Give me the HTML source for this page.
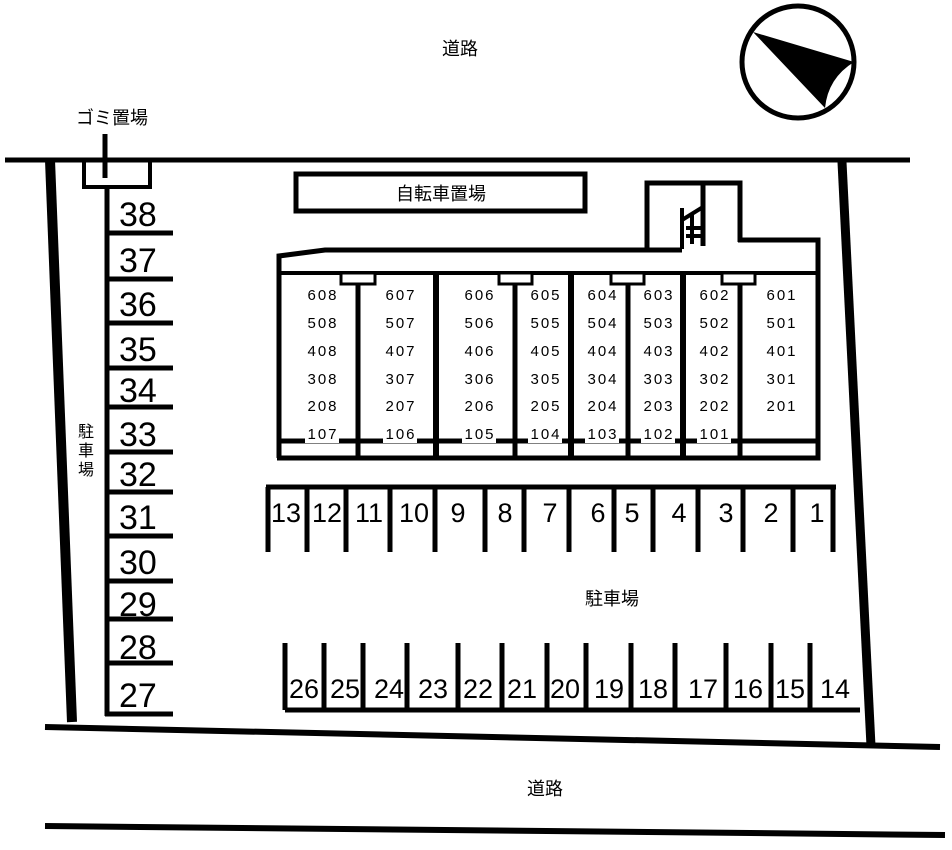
<!DOCTYPE html>
<html><head><meta charset="utf-8"><style>
html,body{margin:0;padding:0;background:#fff;}
svg{display:block;}
text{font-family:"Liberation Sans","Noto Sans CJK JP",sans-serif;fill:#000;}
.j{font-family:"Noto Sans CJK JP",sans-serif;}
.r{font-size:15px;letter-spacing:2px;text-anchor:middle;}
.p{font-size:27px;text-anchor:middle;}
.l{font-size:34px;}
</style></head><body>
<svg width="952" height="850" viewBox="0 0 952 850" xmlns="http://www.w3.org/2000/svg">
<rect width="952" height="850" fill="#fff"/>
<circle cx="798" cy="62" r="56" fill="none" stroke="#000" stroke-width="5"/>
<path d="M753 32 L854 62 Q828 78 825 108 Z" fill="#000"/>
<text class="j" x="460" y="55" font-size="18" text-anchor="middle">道路</text>
<text class="j" x="545" y="795" font-size="18" text-anchor="middle">道路</text>
<text class="j" x="112" y="124" font-size="18" text-anchor="middle">ゴミ置場</text>
<text class="j" x="612" y="605" font-size="18" text-anchor="middle">駐車場</text>
<text class="j" x="86" y="437" font-size="16" text-anchor="middle">駐</text>
<text class="j" x="86" y="456" font-size="16" text-anchor="middle">車</text>
<text class="j" x="86" y="475" font-size="16" text-anchor="middle">場</text>
<line x1="5" y1="160" x2="910" y2="160" stroke="#000" stroke-width="5"/>
<line x1="50" y1="160" x2="72" y2="722" stroke="#000" stroke-width="10"/>
<line x1="842" y1="162" x2="871" y2="746" stroke="#000" stroke-width="9"/>
<line x1="45" y1="727" x2="940" y2="747" stroke="#000" stroke-width="6"/>
<line x1="45" y1="826" x2="945" y2="835" stroke="#000" stroke-width="6"/>
<path d="M84 162 V187 H150 V162" fill="none" stroke="#000" stroke-width="4"/>
<line x1="105" y1="134" x2="105" y2="178" stroke="#000" stroke-width="5"/>
<line x1="107" y1="186" x2="107" y2="716" stroke="#000" stroke-width="5"/>
<g stroke="#000" stroke-width="5">
<line x1="105" y1="233" x2="173" y2="233"/><line x1="105" y1="279" x2="173" y2="279"/>
<line x1="105" y1="323" x2="173" y2="323"/><line x1="105" y1="368" x2="173" y2="368"/>
<line x1="105" y1="407" x2="173" y2="407"/><line x1="105" y1="452" x2="173" y2="452"/>
<line x1="105" y1="492" x2="173" y2="492"/><line x1="105" y1="536" x2="173" y2="536"/>
<line x1="105" y1="581" x2="173" y2="581"/><line x1="105" y1="619" x2="173" y2="619"/>
<line x1="105" y1="663" x2="173" y2="663"/><line x1="105" y1="714" x2="173" y2="714"/>
</g>
<g>
<text class="l" x="119" y="226">38</text><text class="l" x="119" y="272">37</text>
<text class="l" x="119" y="316">36</text><text class="l" x="119" y="361">35</text>
<text class="l" x="119" y="402">34</text><text class="l" x="119" y="446">33</text>
<text class="l" x="119" y="486">32</text><text class="l" x="119" y="529">31</text>
<text class="l" x="119" y="574">30</text><text class="l" x="119" y="616">29</text>
<text class="l" x="119" y="659">28</text><text class="l" x="119" y="707">27</text>
</g>
<rect x="296" y="174" width="289" height="37" fill="none" stroke="#000" stroke-width="5"/>
<text class="j" x="441" y="200" font-size="18" text-anchor="middle">自転車置場</text>
<path d="M279 458 V256 L325 250 H682" fill="none" stroke="#000" stroke-width="5"/>
<path d="M738 240 H818 V458 H277" fill="none" stroke="#000" stroke-width="5"/>
<path d="M647 249 V183 H740 V242" fill="none" stroke="#000" stroke-width="5"/>
<line x1="703" y1="183" x2="703" y2="246" stroke="#000" stroke-width="5"/>
<path d="M682 249 V208 M682 220 L703 207 M686 228 H703 M686 236 H703 M692 214 V244" fill="none" stroke="#000" stroke-width="4"/>
<line x1="279" y1="273" x2="818" y2="273" stroke="#000" stroke-width="4"/>
<g stroke="#000" stroke-width="5">
<line x1="358" y1="273" x2="358" y2="458"/><line x1="436" y1="273" x2="436" y2="458" stroke-width="6"/>
<line x1="515" y1="273" x2="515" y2="458"/><line x1="571" y1="273" x2="571" y2="458" stroke-width="6"/>
<line x1="628" y1="273" x2="628" y2="458"/><line x1="683" y1="273" x2="683" y2="458" stroke-width="6"/>
<line x1="740" y1="273" x2="740" y2="458"/>
</g>
<g fill="#fff" stroke="#000" stroke-width="3">
<rect x="341" y="273" width="34" height="11"/><rect x="499" y="273" width="33" height="11"/>
<rect x="611" y="273" width="33" height="11"/><rect x="722" y="273" width="33" height="11"/>
</g>
<g stroke="#000" stroke-width="5">
<line x1="358" y1="284" x2="358" y2="290"/><line x1="515" y1="284" x2="515" y2="290"/>
<line x1="628" y1="284" x2="628" y2="290"/><line x1="740" y1="284" x2="740" y2="290"/>
</g>
<line x1="279" y1="441" x2="818" y2="441" stroke="#000" stroke-width="5"/>
<g fill="#fff">
<rect x="305" y="428" width="34" height="15"/><rect x="383" y="428" width="34" height="15"/>
<rect x="462" y="428" width="34" height="15"/><rect x="528" y="428" width="34" height="15"/>
<rect x="585" y="428" width="34" height="15"/><rect x="641" y="428" width="34" height="15"/>
<rect x="697" y="428" width="34" height="15"/>
</g>
<g>
<text class="r" x="323" y="300">608</text><text class="r" x="401" y="300">607</text><text class="r" x="480" y="300">606</text><text class="r" x="546" y="300">605</text><text class="r" x="603" y="300">604</text><text class="r" x="659" y="300">603</text><text class="r" x="715" y="300">602</text><text class="r" x="782" y="300">601</text>
<text class="r" x="323" y="328">508</text><text class="r" x="401" y="328">507</text><text class="r" x="480" y="328">506</text><text class="r" x="546" y="328">505</text><text class="r" x="603" y="328">504</text><text class="r" x="659" y="328">503</text><text class="r" x="715" y="328">502</text><text class="r" x="782" y="328">501</text>
<text class="r" x="323" y="356">408</text><text class="r" x="401" y="356">407</text><text class="r" x="480" y="356">406</text><text class="r" x="546" y="356">405</text><text class="r" x="603" y="356">404</text><text class="r" x="659" y="356">403</text><text class="r" x="715" y="356">402</text><text class="r" x="782" y="356">401</text>
<text class="r" x="323" y="384">308</text><text class="r" x="401" y="384">307</text><text class="r" x="480" y="384">306</text><text class="r" x="546" y="384">305</text><text class="r" x="603" y="384">304</text><text class="r" x="659" y="384">303</text><text class="r" x="715" y="384">302</text><text class="r" x="782" y="384">301</text>
<text class="r" x="323" y="411">208</text><text class="r" x="401" y="411">207</text><text class="r" x="480" y="411">206</text><text class="r" x="546" y="411">205</text><text class="r" x="603" y="411">204</text><text class="r" x="659" y="411">203</text><text class="r" x="715" y="411">202</text><text class="r" x="782" y="411">201</text>
<text class="r" x="323" y="439">107</text><text class="r" x="401" y="439">106</text><text class="r" x="480" y="439">105</text><text class="r" x="546" y="439">104</text><text class="r" x="603" y="439">103</text><text class="r" x="659" y="439">102</text><text class="r" x="715" y="439">101</text>
</g>
<line x1="266" y1="487" x2="836" y2="487" stroke="#000" stroke-width="5"/>
<g stroke="#000" stroke-width="5">
<line x1="268" y1="487" x2="268" y2="552"/><line x1="307" y1="487" x2="307" y2="552"/>
<line x1="346" y1="487" x2="346" y2="552"/><line x1="390" y1="487" x2="390" y2="552"/>
<line x1="435" y1="487" x2="435" y2="552"/><line x1="485" y1="487" x2="485" y2="552"/>
<line x1="524" y1="487" x2="524" y2="552"/><line x1="569" y1="487" x2="569" y2="552"/>
<line x1="614" y1="487" x2="614" y2="552"/><line x1="653" y1="487" x2="653" y2="552"/>
<line x1="698" y1="487" x2="698" y2="552"/><line x1="743" y1="487" x2="743" y2="552"/>
<line x1="793" y1="487" x2="793" y2="552"/><line x1="833" y1="487" x2="833" y2="552"/>
</g>
<g>
<text class="p" x="286" y="522">13</text><text class="p" x="327" y="522">12</text><text class="p" x="369" y="522">11</text><text class="p" x="414" y="522">10</text><text class="p" x="458" y="522">9</text><text class="p" x="505" y="522">8</text><text class="p" x="550" y="522">7</text><text class="p" x="598" y="522">6</text><text class="p" x="632" y="522">5</text><text class="p" x="679" y="522">4</text><text class="p" x="726" y="522">3</text><text class="p" x="771" y="522">2</text><text class="p" x="817" y="522">1</text>
</g>
<line x1="285" y1="710" x2="860" y2="710" stroke="#000" stroke-width="5"/>
<g stroke="#000" stroke-width="5">
<line x1="285" y1="643" x2="285" y2="710"/><line x1="324" y1="643" x2="324" y2="710"/>
<line x1="363" y1="643" x2="363" y2="710"/><line x1="407" y1="643" x2="407" y2="710"/>
<line x1="458" y1="643" x2="458" y2="710"/><line x1="502" y1="643" x2="502" y2="710"/>
<line x1="547" y1="643" x2="547" y2="710"/><line x1="586" y1="643" x2="586" y2="710"/>
<line x1="631" y1="643" x2="631" y2="710"/><line x1="675" y1="643" x2="675" y2="710"/>
<line x1="726" y1="643" x2="726" y2="710"/><line x1="771" y1="643" x2="771" y2="710"/>
<line x1="810" y1="643" x2="810" y2="710"/>
</g>
<g>
<text class="p" x="304" y="698">26</text><text class="p" x="345" y="698">25</text><text class="p" x="389" y="698">24</text><text class="p" x="433" y="698">23</text><text class="p" x="478" y="698">22</text><text class="p" x="522" y="698">21</text><text class="p" x="565" y="698">20</text><text class="p" x="609" y="698">19</text><text class="p" x="653" y="698">18</text><text class="p" x="703" y="698">17</text><text class="p" x="748" y="698">16</text><text class="p" x="790" y="698">15</text><text class="p" x="835" y="698">14</text>
</g>
</svg>
</body></html>
